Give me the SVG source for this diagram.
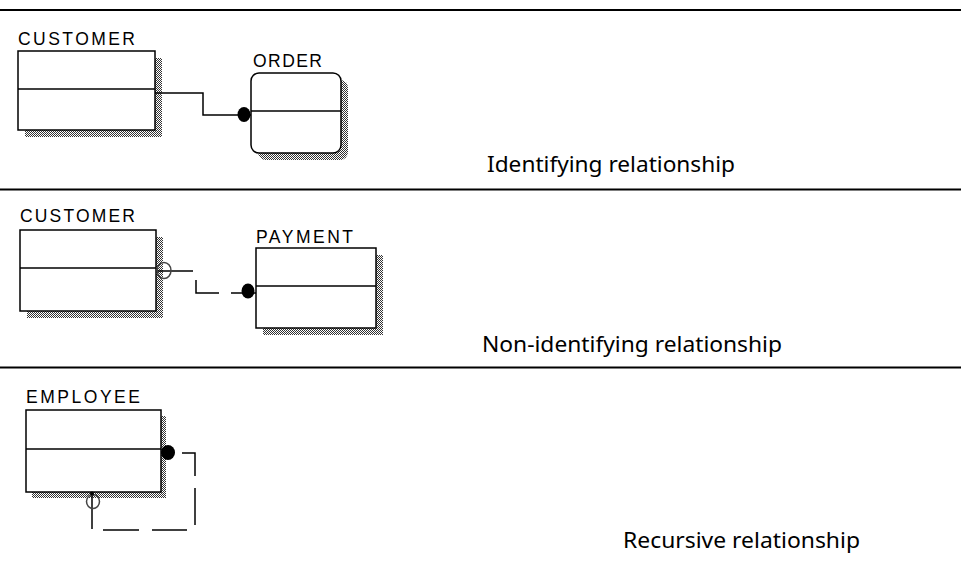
<svg xmlns="http://www.w3.org/2000/svg" width="961" height="563" viewBox="0 0 961 563">
  <defs>
    <pattern id="dither" width="2" height="2" patternUnits="userSpaceOnUse">
      <rect x="0" y="0" width="2" height="2" fill="#ffffff"/>
      <rect x="0" y="0" width="1" height="1" fill="#333333"/>
      <rect x="1" y="1" width="1" height="1" fill="#333333"/>
    </pattern>
  </defs>
  <style>
    .sep { stroke: #000; stroke-width: 2; }
    .box { fill: #fff; stroke: #000; stroke-width: 1.5; }
    .shadow { fill: url(#dither); }
    .div { stroke: #000; stroke-width: 1.5; }
    .ename { font-family: "Liberation Sans", Arial, sans-serif; font-size: 17.5px; fill: #000; }
    .cap { font-family: "Noto Sans", "Open Sans", sans-serif; font-size: 21px; fill: #000; }
    .conn { fill: none; stroke: #000; stroke-width: 1.5; }
    .dot { fill: #000; }
    .open { fill: none; stroke: #444; stroke-width: 1.5; }
  </style>

  <!-- separators -->
  <g id="separators">
    <line class="sep" x1="0" y1="10" x2="961" y2="10"/>
    <line class="sep" x1="0" y1="189.5" x2="961" y2="189.5"/>
    <line class="sep" x1="0" y1="367.5" x2="961" y2="367.5"/>
  </g>

  <!-- Section 1 -->
  <g id="customer1">
    <rect class="shadow" x="25" y="58" width="137" height="79"/>
    <rect class="box" x="18" y="51" width="137" height="79"/>
    <line class="div" x1="18" y1="89" x2="155" y2="89"/>
    <text class="ename" x="18" y="45" textLength="117" lengthAdjust="spacing">CUSTOMER</text>
  </g>
  <g id="order">
    <rect class="shadow" x="258" y="80" width="90" height="80" rx="8" ry="8"/>
    <rect class="box" x="251" y="73" width="90" height="80" rx="8" ry="8"/>
    <line class="div" x1="251" y1="111" x2="341" y2="111"/>
    <text class="ename" x="253" y="67" textLength="69" lengthAdjust="spacing">ORDER</text>
  </g>

  <!-- Section 2 -->
  <g id="customer2">
    <rect class="shadow" x="27" y="237" width="136" height="81"/>
    <rect class="box" x="20" y="230" width="136" height="81"/>
    <line class="div" x1="20" y1="268" x2="156" y2="268"/>
    <text class="ename" x="20" y="222" textLength="115" lengthAdjust="spacing">CUSTOMER</text>
  </g>
  <g id="payment">
    <rect class="shadow" x="263" y="255" width="120" height="80"/>
    <rect class="box" x="256" y="248" width="120" height="80"/>
    <line class="div" x1="256" y1="286" x2="376" y2="286"/>
    <text class="ename" x="256" y="243" textLength="97" lengthAdjust="spacing">PAYMENT</text>
  </g>

  <!-- Section 3 -->
  <g id="employee">
    <rect class="shadow" x="32" y="416" width="134" height="82"/>
    <rect class="box" x="26" y="410" width="135" height="82"/>
    <line class="div" x1="26" y1="449" x2="161" y2="449"/>
    <text class="ename" x="26" y="403" textLength="114" lengthAdjust="spacing">EMPLOYEE</text>
  </g>

  <!-- connectors -->
  <g id="connectors">
    <!-- identifying -->
    <path class="conn" d="M155,93 H203 V115 H251"/>
    <ellipse class="dot" cx="244" cy="114.5" rx="6.5" ry="7.5"/>

    <!-- non-identifying -->
    <path class="conn" d="M156,271 H193"/>
    <path class="conn" d="M196,280 V293 H219"/>
    <path class="conn" d="M231,293 H256"/>
    <ellipse class="open" cx="164" cy="270.5" rx="7" ry="8"/>
    <ellipse class="dot" cx="248" cy="291" rx="6.5" ry="7.5"/>

    <!-- recursive -->
    <path class="conn" d="M182,453 H195 V476"/>
    <path class="conn" d="M195,488 V525"/>
    <path class="conn" d="M187,530 H152"/>
    <path class="conn" d="M139,530 H103"/>
    <path class="conn" d="M92,493 V529"/>
    <ellipse class="dot" cx="168" cy="452.5" rx="7" ry="7.5"/>
    <ellipse class="open" cx="93" cy="501.5" rx="6.5" ry="7"/>
    <circle class="dot" cx="92" cy="493.5" r="2"/>
  </g>

  <!-- captions -->
  <g id="captions">
    <text class="cap" x="487" y="172" textLength="248" lengthAdjust="spacingAndGlyphs">Identifying relationship</text>
    <text class="cap" x="482" y="352" textLength="300" lengthAdjust="spacingAndGlyphs">Non-identifying relationship</text>
    <text class="cap" x="623" y="548" textLength="237" lengthAdjust="spacingAndGlyphs">Recursive relationship</text>
  </g>
</svg>
